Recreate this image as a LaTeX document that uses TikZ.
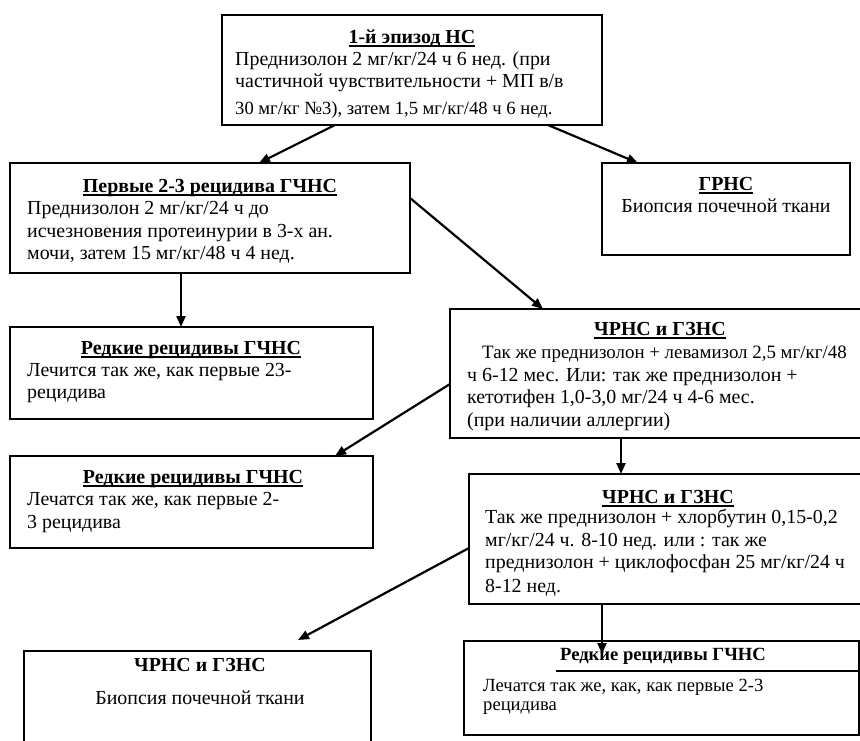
\documentclass[tikz,border=0pt]{standalone}
\usepackage{fontspec}
\setmainfont{Liberation Serif}
\usetikzlibrary{arrows.meta}
\newcommand\myul[1]{\setbox0\hbox{#1}\rlap{\vrule height -2.2pt depth 3.7pt width \wd0}\box0}
\begin{document}
\begin{tikzpicture}[x=1pt,y=-1pt,
  box/.style={draw=black, line width=1.6pt, rectangle, anchor=north west, inner sep=0pt, outer sep=0pt},
  thickbox/.style={box, line width=2.4pt},
  arr/.style={line width=2.2pt, -{Triangle[length=11pt,width=9pt]}},
  tl/.style={anchor=base west, inner sep=0pt, font=\fontsize{19.9}{22}\selectfont},
  tls/.style={anchor=base west, inner sep=0pt, font=\fontsize{18.6}{21}\selectfont},
  tln/.style={anchor=base west, inner sep=0pt, font=\fontsize{18.9}{21}\selectfont},
  tn/.style={anchor=base, inner sep=0pt, font=\fontsize{19.9}{22}\selectfont},
  tc/.style={anchor=base, inner sep=0pt, font=\fontsize{19.9}{22}\selectfont\bfseries},
  tcs/.style={anchor=base, inner sep=0pt, font=\fontsize{18.6}{21}\selectfont\bfseries},
]
\useasboundingbox (0,0) rectangle (860,740);
\clip (0,0) rectangle (860,740);

% boxes
\node[box, minimum width=380pt, minimum height=110pt] (b1) at (222,15) {};
\node[box, minimum width=400pt, minimum height=110pt] (b2) at (10,163) {};
\node[box, minimum width=248pt, minimum height=92pt] (b3) at (602,163) {};
\node[box, minimum width=363pt, minimum height=92pt] (b4) at (10,327) {};
\node[box, minimum width=430pt, minimum height=129pt] (b5) at (450,309) {};
\node[box, minimum width=363pt, minimum height=92pt] (b6) at (10,456) {};
\node[box, minimum width=410pt, minimum height=130pt] (b7) at (469,474) {};
\node[thickbox, minimum width=347pt, minimum height=120pt] (b8) at (24,651) {};
\node[box, minimum width=395pt, minimum height=94pt] (b9) at (464,641) {};

% texts
\node[tc] (b1t) at (412,43) {\myul{1-й эпизод НС}};
\node[tl] (b1a) at (235,65) {Преднизолон 2 мг/кг/24 ч 6 нед. (при};
\node[tl] (b1b) at (235,87) {частичной чувствительности + МП в/в};
\node[tls] (b1c) at (235,114) {30 мг/кг №3), затем 1,5 мг/кг/48 ч 6 нед.};

\node[tc] (b2t) at (210,192) {\myul{Первые 2-3 рецидива ГЧНС}};
\node[tl] (b2a) at (27,214) {Преднизолон 2 мг/кг/24 ч до};
\node[tl] (b2b) at (27,237) {исчезновения протеинурии в 3-х ан.};
\node[tl] (b2c) at (27,259) {мочи, затем 15 мг/кг/48 ч 4 нед.};

\node[tc] (b3t) at (726,190) {\myul{ГРНС}};
\node[tn] (b3a) at (726,212) {Биопсия почечной ткани};

\node[tc] (b4t) at (191,354) {\myul{Редкие рецидивы ГЧНС}};
\node[tl] (b4a) at (27,376) {Лечится так же, как первые 23-};
\node[tl] (b4b) at (27,398) {рецидива};

\node[tc] (b5t) at (660,335) {\myul{ЧРНС и ГЗНС}};
\node[tln] (b5a) at (482,358) {Так же преднизолон + левамизол 2,5 мг/кг/48};
\node[tl] (b5b) at (467,381) {ч 6-12 мес. Или: так же преднизолон +};
\node[tl] (b5c) at (467,403) {кетотифен 1,0-3,0 мг/24 ч 4-6 мес.};
\node[tl] (b5d) at (467,426) {(при наличии аллергии)};

\node[tc] (b6t) at (193,483) {\myul{Редкие рецидивы ГЧНС}};
\node[tl] (b6a) at (27,505) {Лечатся так же, как первые 2-};
\node[tl] (b6b) at (27,528) {3 рецидива};

\node[tc] (b7t) at (668,503) {\myul{ЧРНС и ГЗНС}};
\node[tl] (b7a) at (485,523) {Так же преднизолон + хлорбутин 0,15-0,2};
\node[tl] (b7b) at (485,546) {мг/кг/24 ч. 8-10 нед. или : так же};
\node[tl] (b7c) at (485,568) {преднизолон + циклофосфан 25 мг/кг/24 ч};
\node[tl] (b7d) at (485,592) {8-12 нед.};

\node[tc] (b8t) at (200,671) {ЧРНС и ГЗНС};
\node[tn] (b8a) at (200,704) {Биопсия почечной ткани};

\node[tcs] (b9t) at (663,660) {Редкие рецидивы ГЧНС};
\node[tls] (b9a) at (483,691) {Лечатся так же, как, как первые 2-3};
\node[tls] (b9b) at (483,710) {рецидива};
\draw[line width=1.6pt] ([xshift=92pt,yshift=-30pt]b9.north west) -- ([yshift=-30pt]b9.north east);

% connectors
\draw[arr] ([xshift=113pt]b1.south west) -- ([xshift=249pt]b2.north west);
\draw[arr] ([xshift=326pt]b1.south west) -- ([xshift=36pt]b3.north west);
\draw[arr] ([xshift=171pt]b2.south west) -- ([xshift=171pt]b4.north west);
\draw[arr] ([yshift=-35pt]b2.north east) -- ([xshift=93pt]b5.north west);
\draw[arr] ([yshift=-75pt]b5.north west) -- ([xshift=325pt]b6.north west);
\draw[arr] ([xshift=171pt]b5.south west) -- ([xshift=152pt]b7.north west);
\coordinate (c8) at ([xshift=274pt,yshift=11pt]b8.north west);
\draw[arr] ([yshift=-74pt]b7.north west) -- (c8);
\draw[arr] ([xshift=133pt]b7.south west) -- ([xshift=138pt,yshift=-13pt]b9.north west);
\end{tikzpicture}
\end{document}
